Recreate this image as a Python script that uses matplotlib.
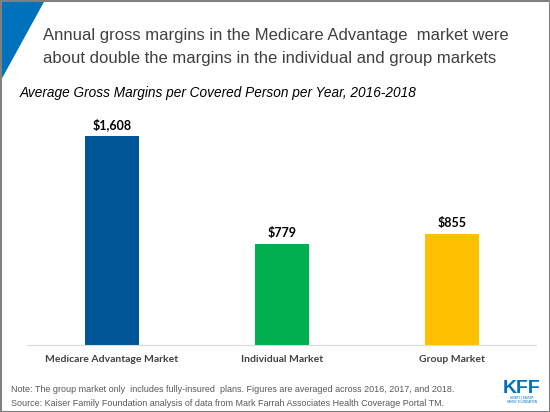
import matplotlib
matplotlib.use("Agg")
import matplotlib.pyplot as plt
from matplotlib.patches import Polygon, Rectangle

# chart data
categories = ["Medicare Advantage Market", "Individual Market", "Group Market"]
margins = [1608, 779, 855]
value_labels = ["$1,608", "$779", "$855"]
bar_colors = ["#005596", "#00b050", "#ffc000"]

W, H = 550, 412
fig = plt.figure(figsize=(W / 100, H / 100), dpi=100)

# background layer in pixel coordinates
bg = fig.add_axes([0, 0, 1, 1])
bg.set_xlim(0, W)
bg.set_ylim(H, 0)
bg.axis("off")
bg.add_patch(Polygon([[0, 0], [45, 0], [0, 82]], closed=True,
                     facecolor="#0071bc", edgecolor="none"))
bg.add_patch(Rectangle((0.5, 0.5), W - 1, H - 1, fill=False,
                       edgecolor="#808080", lw=1.5))

bg.text(43, 35, "Annual gross margins in the Medicare Advantage  market were",
        fontsize=12, family="Liberation Sans", color="#404040", va="center")
bg.text(43, 58, "about double the margins in the individual and group markets",
        fontsize=12, family="Liberation Sans", color="#404040", va="center")
bg.text(20, 93, "Average Gross Margins per Covered Person per Year, 2016-2018",
        fontsize=9.8, family="Liberation Sans", style="italic", color="black",
        va="center")

bg.text(11, 390, "Note: The group market only  includes fully-insured  plans. Figures are averaged across 2016, 2017, and 2018.",
        fontsize=6.45, family="Liberation Sans", color="#595959", va="center")
bg.text(11, 403, "Source: Kaiser Family Foundation analysis of data from Mark Farrah Associates Health Coverage Portal TM.",
        fontsize=6.45, family="Liberation Sans", color="#595959", va="center")

# KFF logo
bg.text(522, 393, "KFF", fontsize=14, fontweight="bold", family="Liberation Sans",
        color="#0071bc", ha="center", va="baseline")
bg.text(522, 395.5, "HENRY J KAISER\nFAMILY FOUNDATION", fontsize=2.2,
        color="#0071bc", ha="center", va="top", linespacing=1.2)

# bar chart area
base_y = 345
top_y = 100
ax = fig.add_axes([27 / W, (H - base_y) / H, (536 - 27) / W, (base_y - top_y) / H])
ax.set_xlim(-0.5, 2.494)
ax.set_ylim(0, (base_y - top_y) / 0.1297)
x = list(range(len(categories)))
ax.bar(x, margins, width=0.312, color=bar_colors)
for xi, v, lab in zip(x, margins, value_labels):
    ax.text(xi, v + 40, lab, ha="center", va="bottom", fontsize=9,
            fontweight="bold", family="Lato", color="black")
ax.set_xticks(x)
ax.set_xticklabels(categories, fontsize=7.5, fontweight="bold", family="Lato",
                   color="#404040")
ax.tick_params(axis="x", length=0, pad=7)
ax.set_yticks([])
for s in ["top", "right", "left"]:
    ax.spines[s].set_visible(False)
ax.spines["bottom"].set_color("#d9d9d9")
ax.patch.set_visible(False)

fig.savefig("out.png", dpi=100)
